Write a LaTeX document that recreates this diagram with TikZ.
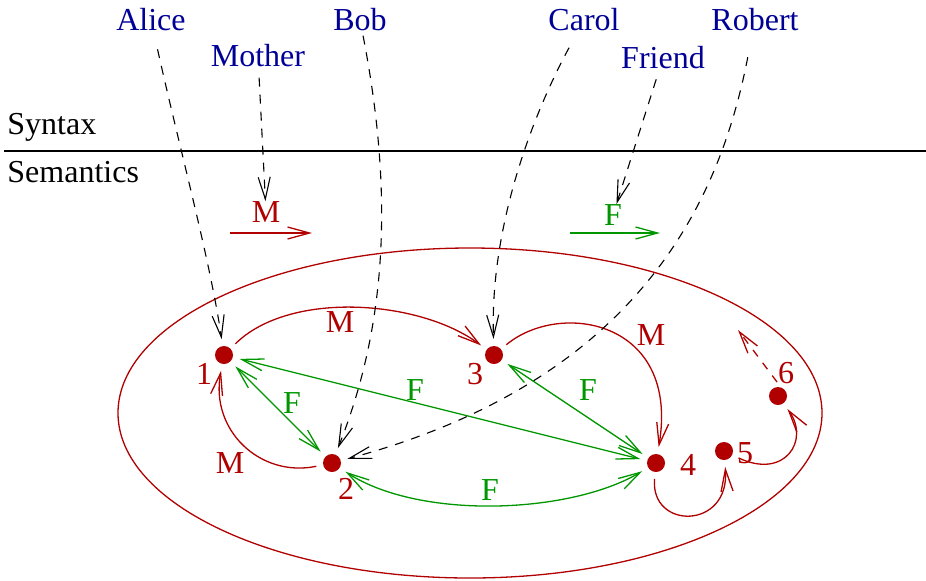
\documentclass[tikz,border=0pt]{standalone}
\usepackage{fontspec}
\setmainfont{Liberation Serif}
\usetikzlibrary{arrows.meta}
\definecolor{myred}{RGB}{176,0,0}
\definecolor{mygreen}{RGB}{0,150,0}
\definecolor{myblue}{RGB}{0,0,150}
\begin{document}
\begin{tikzpicture}[x=0.5pt,y=-0.5pt,
  >={Straight Barb[length=11pt,width=6pt]},
  every node/.style={font=\fontsize{16}{19}\selectfont},
  person/.style={text=myblue, inner sep=1pt},
  plaintxt/.style={text=black, inner sep=0pt, anchor=west},
  elemdot/.style={circle, fill=myred, inner sep=0pt, minimum size=9pt, outer sep=3.5pt},
  numlab/.style={text=myred, inner sep=0pt},
  rlab/.style={text=myred, inner sep=0pt},
  glab/.style={text=mygreen, inner sep=0pt},
  redge/.style={draw=myred, line width=0.65pt, ->},
  gedge/.style={draw=mygreen, line width=0.65pt, <->},
  dedge/.style={draw=black, line width=0.55pt, dash pattern=on 4.5pt off 4pt, ->},
]
\useasboundingbox (0,0) rectangle (926,580);

% syntax / semantics
\node[plaintxt] (syn) at (7,127) {Syntax};
\node[plaintxt] (sem) at (7,172) {Semantics};
\draw[line width=0.65pt] (4,151) -- (926,151);

% names
\node[person] (alice) at (151,20) {Alice};
\node[person] (mother) at (258,56) {Mother};
\node[person] (bob) at (360,20) {Bob};
\node[person] (carol) at (584,20) {Carol};
\node[person] (friend) at (663,58) {Friend};
\node[person] (robert) at (755,20) {Robert};

% legend relations
\node[rlab] (lm) at (266,212) {M};
\coordinate (ma) at (230,233);
\coordinate (mb) at (312,233);
\draw[redge] (ma) -- (mb);
\node[glab] (lf) at (613,215) {F};
\coordinate (fa) at (570,233);
\coordinate (fb) at (660,233);
\draw[gedge,->] (fa) -- (fb);

% domain
\draw[myred, line width=0.65pt] (470,413) ellipse [x radius=176pt, y radius=82.5pt];

% individuals
\node[elemdot] (n1) at (224,355) {};
\node[elemdot] (n2) at (332,463) {};
\node[elemdot] (n3) at (494,355) {};
\node[elemdot] (n4) at (656,463) {};
\node[elemdot] (n5) at (724,451) {};
\node[elemdot] (n6) at (778,396) {};
\node[numlab] (l1) at (204,374) {1};
\node[numlab] (l2) at (346,489) {2};
\node[numlab] (l3) at (475,374) {3};
\node[numlab] (l4) at (688,465) {4};
\node[numlab] (l5) at (745,453) {5};
\node[numlab] (l6) at (786,373) {6};

% M edges
\draw[redge] (n1) .. controls (290,290) and (420,300) .. (n3);
\node[rlab] (m13) at (340,322) {M};
\draw[redge] (n3) .. controls (560,300) and (680,320) .. (n4);
\node[rlab] (m34) at (651,335) {M};
\draw[redge] (n2) .. controls (260,478) and (210,430) .. (n1);
\node[rlab] (m21) at (230,463) {M};
\draw[redge] (n4) .. controls (650,530) and (730,530) .. (n5);
\draw[redge] (n5) .. controls (785,480) and (810,440) .. (n6);
\coordinate (d6a) at (777,382);
\coordinate (d6b) at (738,330);
\draw[redge, dash pattern=on 4pt off 4pt] (d6a) -- (d6b);

% F edges
\draw[gedge] (n1) -- (n2);
\node[glab] (f12) at (292,403) {F};
\draw[gedge] (n1) -- (n4);
\node[glab] (f14) at (415,390) {F};
\draw[gedge] (n3) -- (n4);
\node[glab] (f34) at (588,390) {F};
\draw[gedge] (n2) .. controls (420,520) and (570,514) .. (n4);
\node[glab] (f24) at (490,490) {F};

% interpretation arrows
\draw[dedge, shorten <=8pt] (alice) .. controls (180,150) and (210,260) .. (n1);
\draw[dedge, shorten <=4pt] (mother) -- (lm);
\draw[dedge, shorten <=1pt] (bob) .. controls (395,200) and (385,330) .. (n2);
\draw[dedge, shorten <=8pt] (carol) .. controls (530,120) and (490,230) .. (n3);
\draw[dedge, shorten <=4pt] (friend) -- (lf);
\draw[dedge, shorten <=12pt] (robert) .. controls (720,200) and (640,380) .. (n2);
\end{tikzpicture}
\end{document}
